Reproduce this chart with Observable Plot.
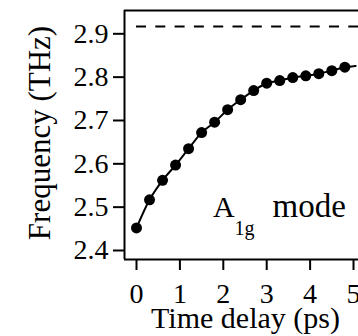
<!DOCTYPE html>
<html><head><meta charset="utf-8">
<script src="https://cdn.jsdelivr.net/npm/d3@7"></script>
<script src="https://cdn.jsdelivr.net/npm/@observablehq/plot@0.6"></script>
<style>
html,body{margin:0;padding:0;background:#fff;}
svg text{font-family:"Liberation Serif","Times New Roman",serif;}
</style>
</head><body><div id="chart"></div>
<script>
const timeDelay = [0, 0.3, 0.6, 0.9, 1.2, 1.5, 1.8, 2.1, 2.4, 2.7, 3.0, 3.3, 3.6, 3.9, 4.2, 4.5, 4.8];
const frequency = [2.452, 2.517, 2.562, 2.597, 2.635, 2.672, 2.696, 2.725, 2.748, 2.769, 2.786, 2.792, 2.799, 2.803, 2.808, 2.815, 2.823];
const fitTime = [...timeDelay, 5.05];
const fitFrequency = [...frequency, 2.826];
const saturation = [2.917];
const xTicks = [0, 1, 2, 3, 4, 5];
const yTicks = [2.4, 2.5, 2.6, 2.7, 2.8, 2.9];
const xLabel = "Time delay (ps)";
const yLabel = "Frequency (THz)";
const modeLabel = ["A", "1g", "mode"];

const xDomain = [-0.2765, 5.115];
const yDomain = [2.3792, 2.9538];
const font = "Liberation Serif";

const points = timeDelay.map((t, i) => ({t, f: frequency[i]}));
const fit = fitTime.map((t, i) => ({t, f: fitFrequency[i]}));

const chart = Plot.plot({
  width: 358,
  height: 336,
  marginLeft: 124,
  marginRight: 0,
  marginTop: 10,
  marginBottom: 77,
  style: {color: "#000", background: "#fff", overflow: "visible"},
  x: {domain: xDomain},
  y: {domain: yDomain},
  marks: [
    Plot.ruleX([xDomain[0]], {stroke: "#000", strokeWidth: 2}),
    Plot.ruleY([yDomain[1]], {stroke: "#000", strokeWidth: 2}),
    Plot.ruleY([yDomain[0]], {stroke: "#000", strokeWidth: 2}),
    Plot.axisY({ticks: yTicks, tickSize: 11, tickPadding: 5, fontSize: 28, fontFamily: font, strokeWidth: 2, label: null, tickFormat: d => d.toFixed(1)}),
    Plot.axisX({ticks: xTicks, tickSize: 11, tickPadding: 13, fontSize: 28, fontFamily: font, strokeWidth: 2, label: null, tickFormat: d => String(d)}),
    Plot.ruleY(saturation, {x1: 0, x2: xDomain[1], stroke: "#000", strokeWidth: 2, strokeDasharray: "10,9.3"}),
    Plot.line(fit, {x: "t", y: "f", stroke: "#000", strokeWidth: 2, curve: "monotone-x"}),
    Plot.dot(points, {x: "t", y: "f", r: 5.5, fill: "#000", stroke: "none"}),
    Plot.text([modeLabel[0]], {x: 1.763, y: 2.4762, text: d => d, textAnchor: "start", lineAnchor: "bottom", fontSize: 30, fontFamily: font, fill: "#000"}),
    Plot.text([modeLabel[1]], {x: 2.258, y: 2.4346, text: d => d, textAnchor: "start", lineAnchor: "bottom", fontSize: 20, fontFamily: font, fill: "#000"}),
    Plot.text([modeLabel[2]], {x: 3.134, y: 2.4762, text: d => d, textAnchor: "start", lineAnchor: "bottom", fontSize: 33, fontFamily: font, fill: "#000"}),
    Plot.text([xLabel], {frameAnchor: "bottom", text: d => d, textAnchor: "middle", lineAnchor: "bottom", dy: 68, dx: 4, fontSize: 30, fontFamily: font, fill: "#000"}),
    Plot.text([yLabel], {frameAnchor: "left", text: d => d, textAnchor: "middle", lineAnchor: "bottom", rotate: -90, dx: -75, dy: -2, fontSize: 31, fontFamily: font, fill: "#000"})
  ]
});
document.getElementById("chart").appendChild(chart);
</script>
</body></html>
